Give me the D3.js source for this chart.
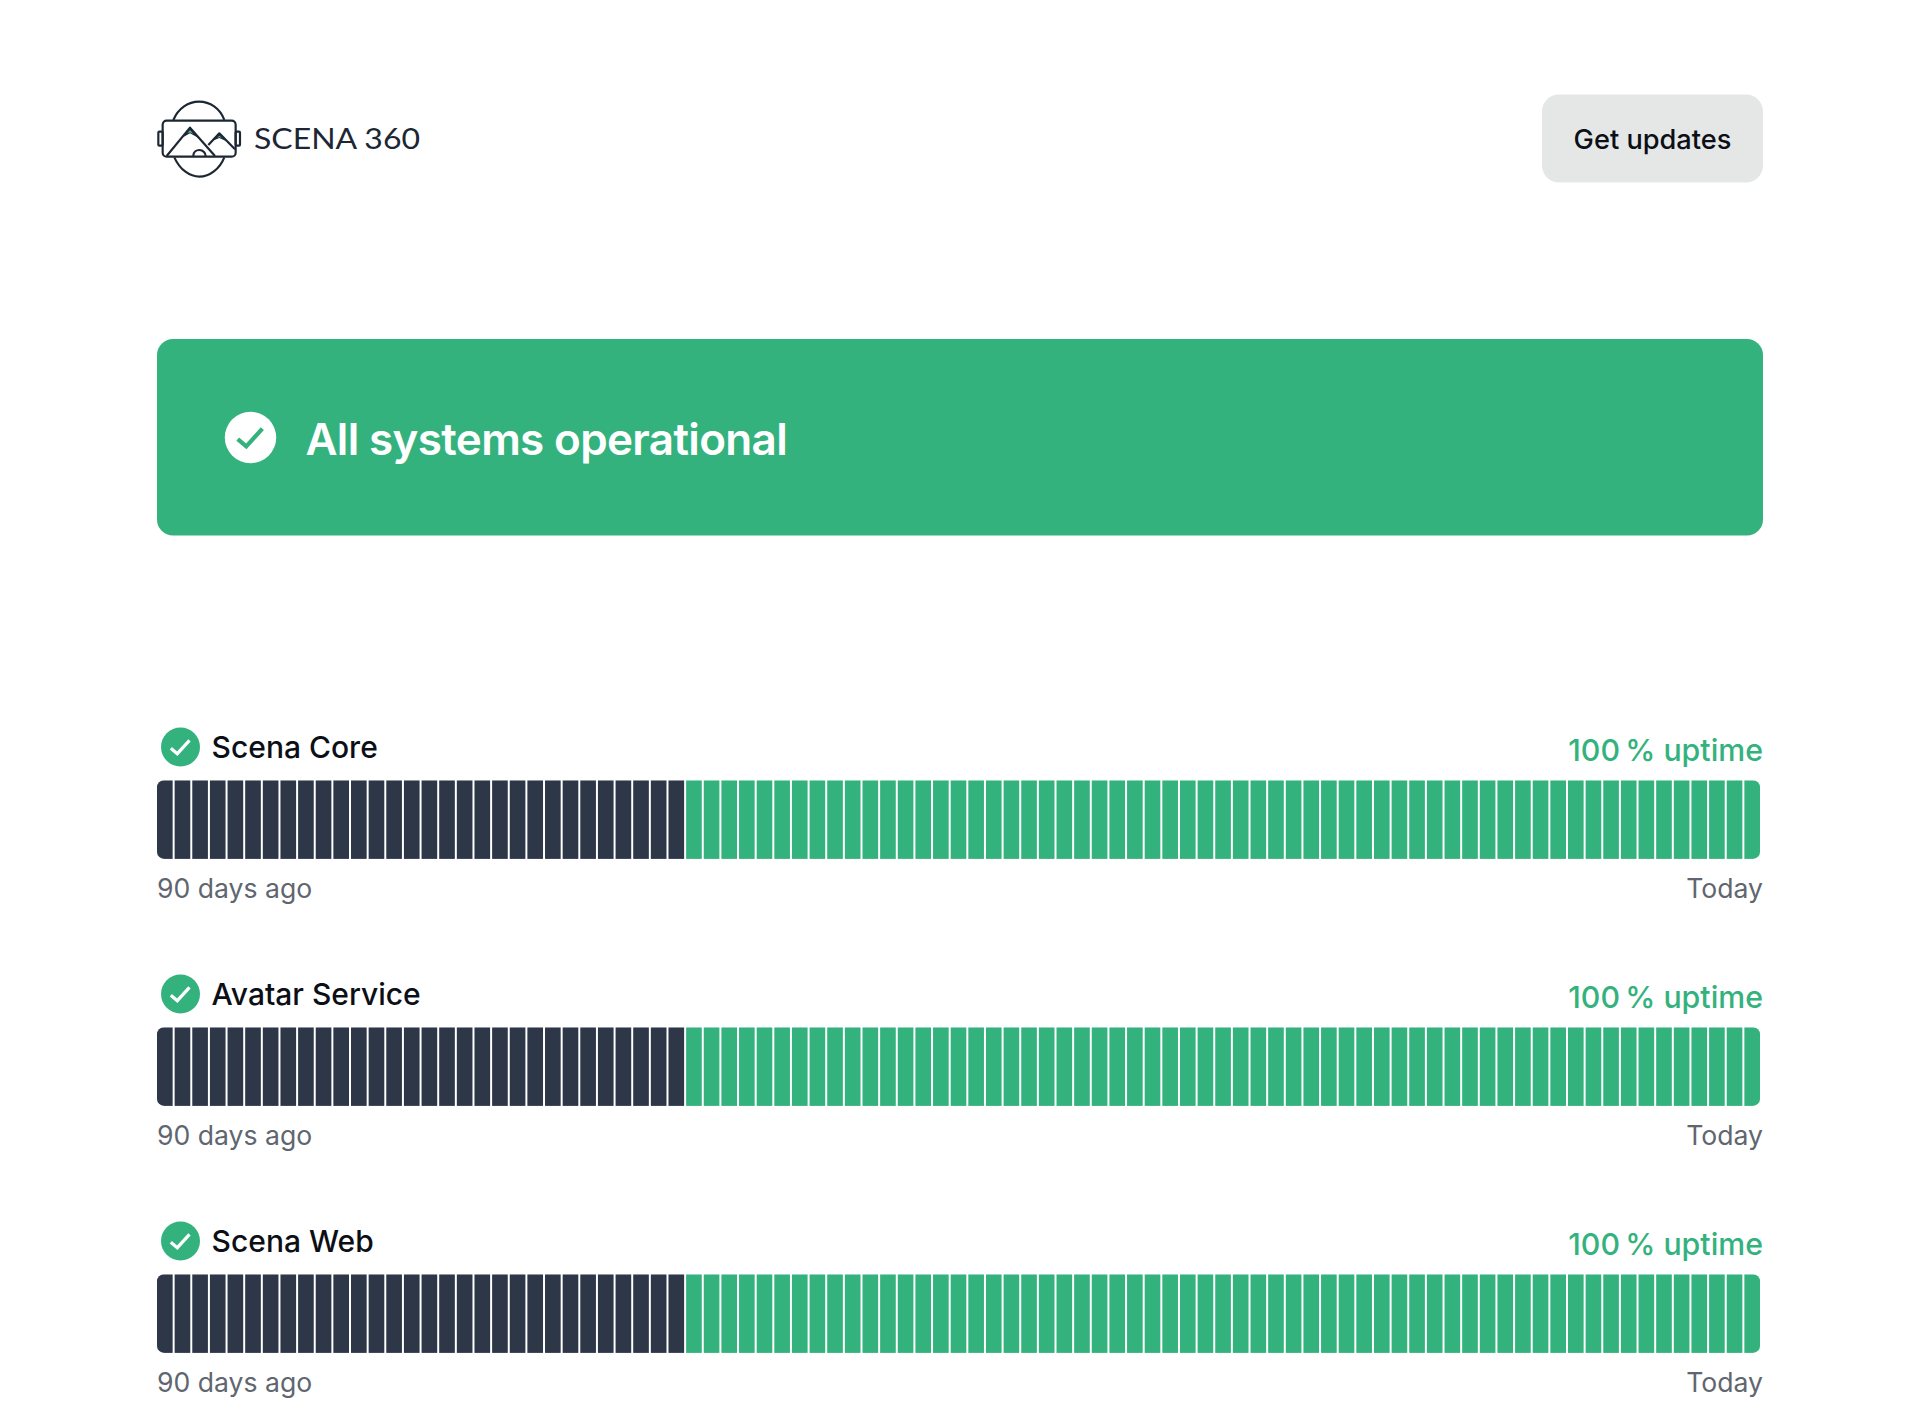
<!DOCTYPE html>
<html>
<head>
<meta charset="utf-8">
<script src="https://cdn.jsdelivr.net/npm/d3@7"></script>
<style>
    html, body { margin: 0; padding: 0; background: #fff; }
    svg { display: block; }
    text { font-family: Inter, "Noto Sans", sans-serif; }
    .name { font-size: 30px; font-weight: 550; fill: #0c0f16; }
    .uptime { font-size: 30.3px; font-weight: 550; fill: #34b27e; }
    .caption { font-size: 26.6px; font-weight: 400; fill: #60666f; }
</style>
</head>
<body>
<div id="status"></div>
<script>
{
    const GREEN = "#34b27e", DARK = "#2d3748";

    // n = no data, o = operational, oldest day first
    let services = [
        {name: "Scena Core", uptime: "100\u2009% uptime", days: "nnnnnnnnnnnnnnnnnnnnnnnnnnnnnnooooooooooooooooooooooooooooooooooooooooooooooooooooooooooooo"},
        {name: "Avatar Service", uptime: "100\u2009% uptime", days: "nnnnnnnnnnnnnnnnnnnnnnnnnnnnnnooooooooooooooooooooooooooooooooooooooooooooooooooooooooooooo"},
        {name: "Scena Web", uptime: "100\u2009% uptime", days: "nnnnnnnnnnnnnnnnnnnnnnnnnnnnnnooooooooooooooooooooooooooooooooooooooooooooooooooooooooooooo"}
    ];

    let width = 1920, height = 1415, left = 157, right = 1763;

    let svg = d3.select("#status")
        .append("svg")
        .attr("width", width)
        .attr("height", height)
        .attr("viewBox", `0 0 ${width} ${height}`);

    // round check badge
    function badge(parent, cx, cy, r, fill, tick){
        let k = r / 19.5;
        parent.append("circle")
            .attr("cx", cx)
            .attr("cy", cy)
            .attr("r", r)
            .attr("fill", fill);
        parent.append("path")
            .attr("d", d3.line()([[cx - 9.7 * k, cy + 1.2 * k], [cx - 3.2 * k, cy + 6.7 * k], [cx + 9 * k, cy - 6.7 * k]]))
            .attr("fill", "none")
            .attr("stroke", tick)
            .attr("stroke-width", 3.2 * k);
    }

    // logo, drawn in 3x units
    let logo = svg.append("g")
        .attr("transform", "translate(140, 80) scale(0.3333)")
        .attr("fill", "none")
        .attr("stroke", "#1d2733")
        .attr("stroke-width", 6.5)
        .attr("stroke-linejoin", "round");

    logo.append("path").attr("d", "M100 120 C115 85 145 65 177 65 C210 65 240 85 253 120");
    logo.append("path").attr("d", "M103 232 C120 270 150 290 178 290 C210 290 240 265 253 232");
    logo.append("rect").attr("x", 68).attr("y", 122).attr("width", 219).attr("height", 108).attr("rx", 12);
    logo.append("rect").attr("x", 55).attr("y", 155).attr("width", 13).attr("height", 42).attr("rx", 3);
    logo.append("rect").attr("x", 287).attr("y", 155).attr("width", 13).attr("height", 42).attr("rx", 3);
    logo.append("path").attr("d", "M80 228 L150 143 L225 228");
    logo.append("path").attr("d", "M205 195 L238 160 L285 208");
    logo.append("path").attr("d", "M160 228 C160 215 170 210 178 210 C190 210 197 220 197 228");
    logo.append("path").attr("d", "M125 174 L150 145 L176 174 L150 160 Z").attr("fill", "#1d2733").attr("stroke", "none");
    logo.append("path").attr("d", "M216 183 L238 162 L258 183 L238 174 Z").attr("fill", "#1d2733").attr("stroke", "none");
    logo.append("path").attr("d", "M142 160 L150 151 L160 162 L150 157 Z").attr("fill", "#5fc4a0").attr("stroke", "none");
    logo.append("path").attr("d", "M231 174 L238 167 L246 175 L238 171 Z").attr("fill", "#5fc4a0").attr("stroke", "none");

    svg.append("text")
        .attr("x", 254)
        .attr("y", 149)
        .attr("textLength", 166)
        .attr("lengthAdjust", "spacingAndGlyphs")
        .style("font-family", "Lato")
        .style("font-size", "29px")
        .style("font-weight", 400)
        .attr("fill", "#1d2733")
        .text("SCENA 360");

    // button
    svg.append("rect")
        .attr("x", 1542)
        .attr("y", 94.5)
        .attr("width", right - 1542)
        .attr("height", 88)
        .attr("rx", 17)
        .attr("fill", "#e5e7e7");

    svg.append("text")
        .attr("x", (1542 + right) / 2)
        .attr("y", 149)
        .attr("text-anchor", "middle")
        .style("font-size", "27.2px")
        .style("font-weight", 550)
        .attr("fill", "#0c0f16")
        .text("Get updates");

    // banner
    svg.append("rect")
        .attr("x", left)
        .attr("y", 339)
        .attr("width", right - left)
        .attr("height", 196.5)
        .attr("rx", 16)
        .attr("fill", GREEN);

    badge(svg, 250.5, 437.5, 25.7, "#fff", GREEN);

    svg.append("text")
        .attr("x", 305.5)
        .attr("y", 455)
        .style("font-size", "44px")
        .style("font-weight", 600)
        .style("letter-spacing", "-0.65px")
        .attr("fill", "#fff")
        .text("All systems operational");

    // scales
    let x = d3.scaleBand()
        .domain(d3.range(services[0].days.length))
        .range([left, 1760])
        .paddingInner(0.113);

    let y = d3.scalePoint()
        .domain(services.map(d => d.name))
        .range([780.3, 1274.3]);

    let color = d3.scaleOrdinal()
        .domain(["n", "o"])
        .range([DARK, GREEN]);

    let barHeight = 78.6;

    svg.append("clipPath")
        .attr("id", "barClip")
        .append("rect")
        .attr("x", left)
        .attr("width", 1760 - left)
        .attr("height", barHeight)
        .attr("rx", 7);

    // one row per service
    let rows = svg.selectAll(".service")
        .data(services)
        .join("g")
        .attr("class", "service")
        .attr("transform", d => `translate(0, ${y(d.name)})`);

    rows.each(function(d){
        let row = d3.select(this);

        badge(row, 180.5, -33.3, 19.5, GREEN, "#fff");

        row.append("text")
            .attr("class", "name")
            .attr("x", 211.6)
            .attr("y", -22)
            .text(d.name);

        row.append("text")
            .attr("class", "uptime")
            .attr("x", right)
            .attr("y", -19.5)
            .attr("text-anchor", "end")
            .text(d.uptime);

        row.append("g")
            .attr("clip-path", "url(#barClip)")
            .selectAll("rect")
            .data(d.days.split(""))
            .join("rect")
            .attr("x", (s, i) => x(i))
            .attr("y", 0)
            .attr("width", x.bandwidth())
            .attr("height", barHeight)
            .attr("fill", s => color(s));

        row.append("text")
            .attr("class", "caption")
            .attr("x", left)
            .attr("y", 118)
            .text("90 days ago");

        row.append("text")
            .attr("class", "caption")
            .attr("x", right)
            .attr("y", 118)
            .attr("text-anchor", "end")
            .text("Today");
    });
}
</script>
</body>
</html>
